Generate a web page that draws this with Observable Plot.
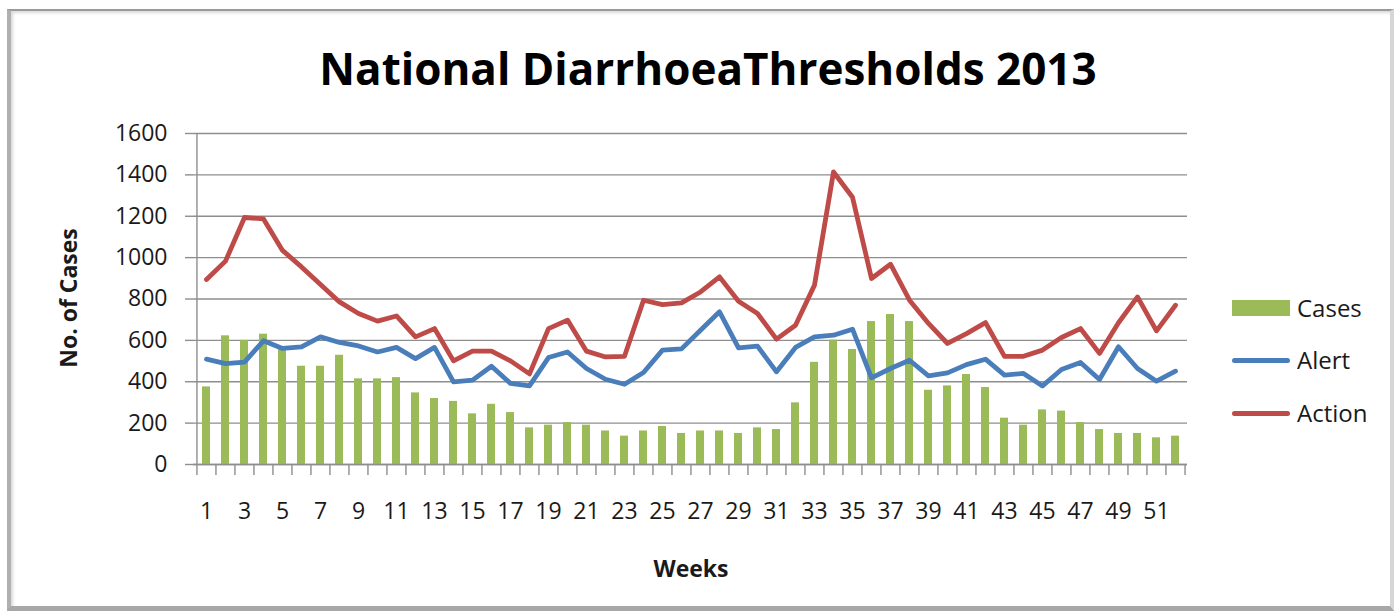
<!DOCTYPE html>
<html><head><meta charset="utf-8">
<script src="https://cdn.jsdelivr.net/npm/d3@7"></script>
<script src="https://cdn.jsdelivr.net/npm/@observablehq/plot@0.6"></script>
<style>
body{margin:0;background:#fff;}
#wrap{position:relative;width:1395px;height:616px;overflow:hidden;font-family:"Open Sans",sans-serif;color:#1a1a1a;background:#fff;}
#frame{position:absolute;left:7px;top:9px;width:1379px;height:595px;border-top:2px solid #9a9a9a;border-left:4px solid #b0b0b0;border-right:4px solid #d6d6d6;border-bottom:5px solid #a8a8a8;box-shadow:inset 2px 2px 3px rgba(0,0,0,0.15);}
#title{position:absolute;left:0;width:1416px;top:38px;text-align:center;font-weight:700;font-size:44px;line-height:60px;color:#000;white-space:nowrap;}
#ylab{position:absolute;left:68px;top:298px;transform:translate(-50%,-50%) rotate(-90deg);font-weight:700;font-size:23px;white-space:nowrap;}
#xlab{position:absolute;left:691px;top:568px;transform:translate(-50%,-50%);font-weight:700;font-size:23px;white-space:nowrap;}
#chart{position:absolute;left:0;top:0;}
.leg{position:absolute;left:1232px;font-size:24px;line-height:30px;height:30px;display:flex;align-items:center;}
.leg .sw{width:58px;margin-right:7px;}
</style></head>
<body>
<div id="wrap">
<div id="frame"></div>
<div id="chart"></div>
<div id="title">National DiarrhoeaThresholds 2013</div>
<div id="ylab">No. of Cases</div>
<div id="xlab">Weeks</div>
<div class="leg" style="top:293px"><div class="sw" style="height:16px;background:#9bbb59"></div>Cases</div>
<div class="leg" style="top:345px"><div class="sw" style="height:5px;border-radius:3px;background:#4a7ebb"></div>Alert</div>
<div class="leg" style="top:398px"><div class="sw" style="height:5px;border-radius:3px;background:#be4b48"></div>Action</div>
</div>
<script>
const weeks = [1,2,3,4,5,6,7,8,9,10,11,12,13,14,15,16,17,18,19,20,21,22,23,24,25,26,27,28,29,30,31,32,33,34,35,36,37,38,39,40,41,42,43,44,45,46,47,48,49,50,51,52];
const cases = [375,622,600,630,570,475,475,528,414,414, 420,346,319,305,245,291,251,177,190,203, 190,162,137,162,184,150,162,162,150,177, 169,298,494,601,556,691,725,691,359,380, 435,372,224,190,264,258,203,169,150,150, 129,137];
const alert = [509,488,495,598,561,569,617,590,573,544, 566,512,566,399,408,475,392,380,517,544, 464,412,388,445,553,559,649,738,564,572, 448,566,617,625,654,419,464,504,428,443, 483,509,432,440,380,459,493,411,569,464, 403,451];
const action = [894,983,1194,1187,1035,955,870,786,730,693, 718,617,657,501,548,548,501,438,657,698, 548,520,523,794,773,781,834,907,789,730, 606,673,867,1414,1292,899,968,794,682,585, 633,686,523,523,553,614,657,537,685,810, 646,770];
const yTicks = [0,200,400,600,800,1000,1200,1400,1600];
const xLabels = weeks.filter(w => w % 2 === 1);

const data = weeks.map((w, i) => ({week: w, cases: cases[i], alert: alert[i], action: action[i]}));

const W = 1395, H = 616, mL = 193, mR = 208, mT = 133, mB = 152;
const step = (W - mL - mR) / weeks.length;
const grey = "#8e8e8e";

const chart = Plot.plot({
  width: W, height: H,
  marginLeft: mL, marginRight: mR, marginTop: mT, marginBottom: mB,
  style: {fontFamily: "Open Sans, sans-serif", fontSize: "23px", color: "#1a1a1a", background: "transparent", overflow: "visible"},
  x: {type: "band", domain: weeks, paddingInner: 0.58, paddingOuter: 0.29},
  y: {domain: [0, 1600]},
  marks: [
    Plot.gridY(yTicks, {stroke: grey, strokeOpacity: 1, strokeWidth: 1.4}),
    Plot.axisY(yTicks, {tickSize: 8, tickPadding: 18, stroke: grey, strokeWidth: 1.4, label: null, fontSize: 23, tickFormat: d => String(d)}),
    Plot.axisX(weeks, {tickSize: 11, tickFormat: () => "", dx: -step / 2, stroke: grey, strokeWidth: 1.4, label: null}),
    Plot.axisX([weeks[weeks.length - 1]], {tickSize: 11, tickFormat: () => "", dx: step / 2, stroke: grey, strokeWidth: 1.4, label: null}),
    Plot.axisX(xLabels, {tickSize: 0, tickPadding: 38, label: null, fontSize: 23}),
    Plot.barY(data, {x: "week", y: "cases", fill: "#9bbb59"}),
    Plot.lineY(data, {x: "week", y: "alert", stroke: "#4a7ebb", strokeWidth: 4.8, strokeLinejoin: "round", strokeLinecap: "round"}),
    Plot.lineY(data, {x: "week", y: "action", stroke: "#be4b48", strokeWidth: 4.8, strokeLinejoin: "round", strokeLinecap: "round"}),
    Plot.ruleX([weeks[0]], {x: d => d, y1: 0, y2: 1600, dx: -step / 2, stroke: grey, strokeWidth: 1.4}),
    Plot.ruleY([0], {stroke: grey, strokeWidth: 1.4})
  ]
});
document.getElementById("chart").appendChild(chart);
</script>
</body></html>
